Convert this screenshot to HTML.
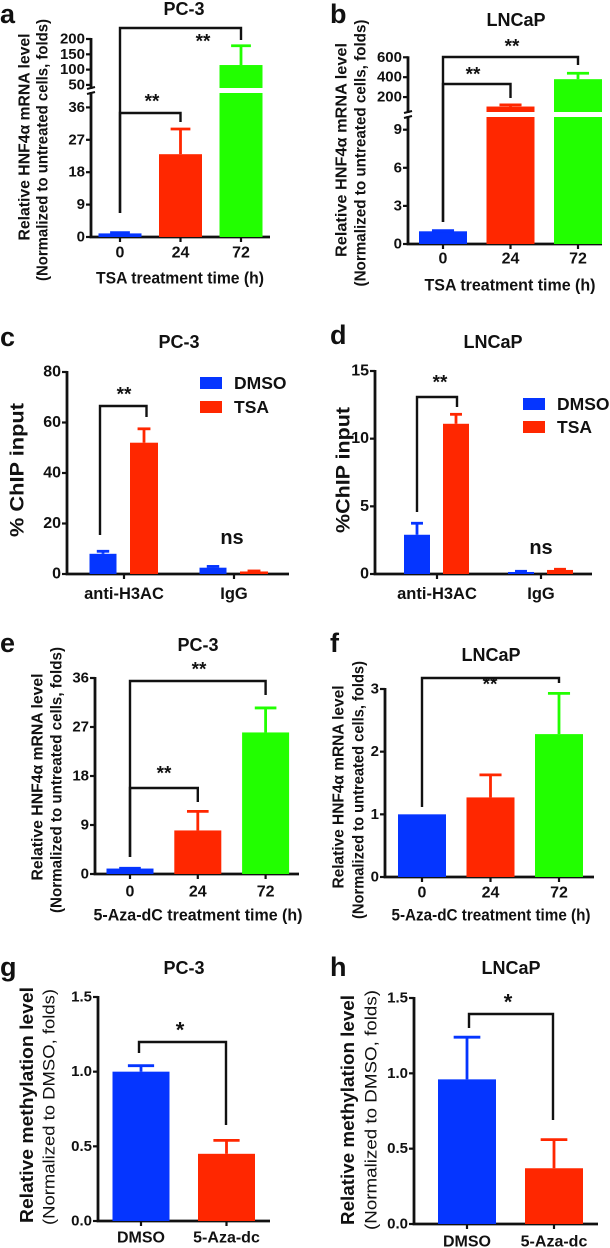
<!DOCTYPE html>
<html><head><meta charset="utf-8"><style>
html,body{margin:0;padding:0;background:#fff;}
svg{display:block;font-family:"Liberation Sans",Arial,sans-serif;}
</style></head><body>
<svg id="fig" width="610" height="1248" viewBox="0 0 610 1248" xmlns="http://www.w3.org/2000/svg"></svg>
<script>
// ---------- data ----------
const aCats=['0','24','72'];
const aVals=[1,23,115];
const aErr=[1.2,30,178];
const aTicksLow=[0,9,18,27,36];
const aTicksHigh=[50,100,150,200];

const bCats=['0','24','72'];
const bVals=[1,105,380];
const bErr=[1.05,122,440];
const bTicksLow=[0,3,6,9];
const bTicksHigh=[200,400,600];

const cCats=['anti-H3AC','IgG'];
const cDmso=[8,2.5];
const cDmsoErr=[9,3];
const cTsa=[52,1];
const cTsaErr=[57.5,1.2];
const cTicks=[0,20,40,60,80];

const dCats=['anti-H3AC','IgG'];
const dDmso=[2.9,0.15];
const dDmsoErr=[3.75,0.2];
const dTsa=[11.1,0.3];
const dTsaErr=[11.8,0.35];
const dTicks=[0,5,10,15];

const eCats=['0','24','72'];
const eVals=[1,8,26];
const eErr=[1.05,11.5,30.5];
const eTicks=[0,9,18,27,36];

const fCats=['0','24','72'];
const fVals=[1.0,1.27,2.28];
const fErr=[1.0,1.63,2.93];
const fTicks=[0,1,2,3];

const gCats=['DMSO','5-Aza-dc'];
const gVals=[1.0,0.45];
const gErr=[1.04,0.54];
const gTicks=['0.0','0.5','1.0','1.5'];

const hCats=['DMSO','5-Aza-dc'];
const hVals=[0.96,0.37];
const hErr=[1.24,0.56];
const hTicks=['0.0','0.5','1.0','1.5'];

// ---------- helpers ----------
const NS='http://www.w3.org/2000/svg';
const svg=document.getElementById('fig');
const BLUE='#0535ff', RED='#ff2700', GREEN='#22ff00';
function mk(tag,attrs,parent){const e=document.createElementNS(NS,tag);for(const k in attrs)e.setAttribute(k,attrs[k]);(parent||svg).appendChild(e);return e;}
function txt(s,x,y,size,opt,parent){
  opt=opt||{};
  const t=mk('text',{x:x,y:y,'font-size':size,'font-weight':opt.w||'bold','text-anchor':opt.a||'middle','dominant-baseline':'central',fill:'#111'},parent);
  if(opt.rot){t.setAttribute('transform','rotate(-90 '+x+' '+y+')');}
  if(opt.len){t.setAttribute('textLength',opt.len);t.setAttribute('lengthAdjust','spacingAndGlyphs');}
  t.textContent=s;return t;
}
function mkScale(segs){
  return function(v){
    let s=segs[0];
    for(const sg of segs){if(v>=sg.d0)s=sg;}
    return s.p0+(v-s.d0)/(s.d1-s.d0)*(s.p1-s.p0);
  };
}
function segY(sg,v){return sg.p0+(v-sg.d0)/(sg.d1-sg.d0)*(sg.p1-sg.p0);}
function drawAxes(g,x0,xEnd,base,segs,tickGroups,tickSize){
  const ys=mkScale(segs);
  segs.forEach(function(sg){
    const l=mk('line',{x1:x0,x2:x0,y1:sg.p0+1,y2:sg.p1-1,stroke:'#111','stroke-width':2.8},g);
    
    
  });
  for(let i=1;i<segs.length;i++){
    [segs[i-1].p1,segs[i].p0].forEach(function(yy){
      const b=mk('line',{x1:x0-4,x2:x0+4,y1:yy+1,y2:yy-1,stroke:'#111','stroke-width':2},g);
      
      
    });
  }
  const xl=mk('line',{x1:x0-1.4,x2:xEnd,y1:base,y2:base,stroke:'#111','stroke-width':2.8},g);
  
  
  tickGroups.forEach(function(tg){
    tg.forEach(function(t){
      const v=parseFloat(t);const yy=ys(v);
      const tk=mk('line',{x1:x0-5,x2:x0,y1:yy,y2:yy,stroke:'#111','stroke-width':2.2},g);
      
      
      const tl=txt(String(t),x0-6,yy,tickSize||15,{a:'end'},g);
      
      
    });
  });
  return ys;
}
function drawBar(g,segs,cx,w,v,err,color){
  segs.forEach(function(sg){
    if(v>sg.d0){
      const top=segY(sg,Math.min(v,sg.d1));
      const r=mk('rect',{x:cx-w/2,y:top,width:w,height:sg.p0-top,fill:color},g);
      
      
    }
  });
  const ys=mkScale(segs);
  if(err>v){
    const y1=ys(v),y2=ys(err);
    const e1=mk('line',{x1:cx,x2:cx,y1:y1,y2:y2,stroke:color,'stroke-width':2.8},g);
    
    
    const e2=mk('line',{x1:cx-w*0.23,x2:cx+w*0.23,y1:y2,y2:y2,stroke:color,'stroke-width':2.8},g);
    
    
  }
}
function bracket(g,xa,xb,yTop,yA,yB,label,lx,ly,size){
  const p=mk('polyline',{points:xa+','+yA+' '+xa+','+yTop+' '+xb+','+yTop+' '+xb+','+yB,fill:'none',stroke:'#111','stroke-width':2.4},g);
  
  
  const t=txt(label,lx,ly,size||19,{},g);
  
  
}
function xCats(g,cats,cxs,base,y,size){
  cats.forEach(function(c,i){
    const tk=mk('line',{x1:cxs[i],x2:cxs[i],y1:base,y2:base+5,stroke:'#111','stroke-width':2.2},g);
    
    
    const t=txt(c,cxs[i],y,size||16,{},g);
    
    
  });
}
function panelG(name){const g=mk('g',{});return g;}
function header(g,letter,lx,ly,title,tx,ty){
  const l=txt(letter,lx,ly,27,{a:'start'},g);
  
  
  const t=txt(title,tx,ty,18,{},g);
  
  
}
function ytitle(g,s,x,y,size,len,w){
  const t=txt(s,x,y,size,{rot:true,len:len,w:w},g);
  
  
}
function xtitle(g,s,x,y,len){
  const t=txt(s,x,y,17,{len:len},g);
  
  
}
function legend(g,x,y1,y2,tx){
  [[BLUE,'DMSO',y1],[RED,'TSA',y2]].forEach(function(it){
    const r=mk('rect',{x:x,y:it[2]-6,width:22,height:12,fill:it[0]},g);
    
    
    const t=txt(it[1],tx,it[2],17.5,{a:'start'},g);
    
    
  });
}
const COLORS3=[BLUE,RED,GREEN];

// ---------- panel a ----------
(function(){
  const g=panelG('panel-a');
  header(g,'a',0,14,'PC-3',184,9);
  const segs=[{d0:0,d1:40,p0:237,p1:93},{d0:40,d1:200,p0:88,p1:39}];
  drawAxes(g,91,270,237,segs,[aTicksLow,aTicksHigh],15);
  const cxs=aCats.map(function(c,i){return 120+i*60.5;});
  aVals.forEach(function(v,i){drawBar(g,segs,cxs[i],43,v,aErr[i],COLORS3[i]);});
  xCats(g,aCats,cxs,237,253,16);
  bracket(g,cxs[0],cxs[2],28,213,40,'**',203,42);
  bracket(g,cxs[0],cxs[1],113,213,122,'**',152,102);
  ytitle(g,'Relative HNF4α mRNA level',25,137,16,207);
  ytitle(g,'(Normalized to untreated cells, folds)',43,150,15.5,262);
  xtitle(g,'TSA treatment time (h)',180,278,168);
})();

// ---------- panel b ----------
(function(){
  const g=panelG('panel-b');
  header(g,'b',330,14,'LNCaP',516,20);
  const segs=[{d0:0,d1:10,p0:244,p1:117},{d0:50,d1:600,p0:112,p1:57.3}];
  drawAxes(g,408,602,244,segs,[bTicksLow,bTicksHigh],15);
  const cxs=bCats.map(function(c,i){return 443+i*67.5;});
  bVals.forEach(function(v,i){drawBar(g,segs,cxs[i],48,v,bErr[i],COLORS3[i]);});
  xCats(g,bCats,cxs,244,259,16);
  bracket(g,cxs[0],cxs[2],57,222,65,'**',512,47);
  bracket(g,cxs[0],cxs[1],84,222,98,'**',473,75);
  ytitle(g,'Relative HNF4α mRNA level',342,150,16,214);
  ytitle(g,'(Normalized to untreated cells, folds)',361,153,15.5,267);
  xtitle(g,'TSA treatment time (h)',510,285,171);
})();

// ---------- panel c ----------
(function(){
  const g=panelG('panel-c');
  header(g,'c',0,337,'PC-3',179,342);
  const segs=[{d0:0,d1:80,p0:574,p1:372}];
  drawAxes(g,67,289,574,segs,[cTicks],16);
  const gx=cCats.map(function(c,i){return 124+i*110;});
  cDmso.forEach(function(v,i){drawBar(g,segs,gx[i]-21,27,v,cDmsoErr[i],BLUE);});
  cTsa.forEach(function(v,i){drawBar(g,segs,gx[i]+20,28,v,cTsaErr[i],RED);});
  xCats(g,cCats,gx,574,594,16.5);
  bracket(g,100,146.5,406,535,417,'**',124,395);
  const ns=txt('ns',232,538,20,{},g);
  
  
  legend(g,200,383,407,234);
  ytitle(g,'% ChIP input',18,470,19,134);
})();

// ---------- panel d ----------
(function(){
  const g=panelG('panel-d');
  header(g,'d',330,335,'LNCaP',493,342);
  const segs=[{d0:0,d1:15,p0:574,p1:371}];
  drawAxes(g,375,592,574,segs,[dTicks],16);
  const gx=dCats.map(function(c,i){return 437+i*104;});
  dDmso.forEach(function(v,i){drawBar(g,segs,gx[i]-20,26,v,dDmsoErr[i],BLUE);});
  dTsa.forEach(function(v,i){drawBar(g,segs,gx[i]+19,26,v,dTsaErr[i],RED);});
  xCats(g,dCats,gx,574,594,16.5);
  bracket(g,417,457,397,512,407,'**',440,383);
  const ns=txt('ns',541,548,20,{},g);
  
  
  legend(g,523,404,427,557);
  ytitle(g,'%ChIP input',344,470,19,126);
})();

// ---------- panel e ----------
(function(){
  const g=panelG('panel-e');
  header(g,'e',0,643,'PC-3',198,645);
  const segs=[{d0:0,d1:36,p0:874,p1:678}];
  drawAxes(g,95,299,874,segs,[eTicks],15);
  const cxs=eCats.map(function(c,i){return 130+i*67.8;});
  eVals.forEach(function(v,i){drawBar(g,segs,cxs[i],47,v,eErr[i],COLORS3[i]);});
  xCats(g,eCats,cxs,874,892,16);
  bracket(g,cxs[0],cxs[2],681,857,695,'**',199,670);
  bracket(g,cxs[0],cxs[1],788,857,802,'**',164,774);
  ytitle(g,'Relative HNF4α mRNA level',38,777,16,207);
  ytitle(g,'(Normalized to untreated cells, folds)',57,780,15.5,266);
  xtitle(g,'5-Aza-dC treatment time (h)',198,915,209);
})();

// ---------- panel f ----------
(function(){
  const g=panelG('panel-f');
  header(g,'f',330,643,'LNCaP',491,655);
  const segs=[{d0:0,d1:3,p0:877,p1:689}];
  drawAxes(g,385,594,877,segs,[fTicks],15);
  const cxs=fCats.map(function(c,i){return 422+i*68.5;});
  fVals.forEach(function(v,i){drawBar(g,segs,cxs[i],48,v,fErr[i],COLORS3[i]);});
  xCats(g,fCats,cxs,877,893,16);
  bracket(g,cxs[0],cxs[2],678,807,683,'**',490,685);
  ytitle(g,'Relative HNF4α mRNA level',339,787,16,203);
  ytitle(g,'(Normalized to untreated cells, folds)',359,790,15.5,258);
  xtitle(g,'5-Aza-dC treatment time (h)',491,915,199);
})();

// ---------- panel g ----------
(function(){
  const g=panelG('panel-g');
  header(g,'g',0,967,'PC-3',184,968);
  const segs=[{d0:0,d1:1.5,p0:1221,p1:997}];
  drawAxes(g,98,270,1221,segs,[gTicks],15);
  const cxs=gCats.map(function(c,i){return 141+i*85.5;});
  gVals.forEach(function(v,i){drawBar(g,segs,cxs[i],57,v,gErr[i],[BLUE,RED][i]);});
  xCats(g,gCats,cxs,1221,1238,16);
  bracket(g,139,226,1042,1053,1125,'*',180,1030,22);
  ytitle(g,'Relative methylation level',27,1105,18,236);
  ytitle(g,'(Normalized to DMSO, folds)',49,1107,17,236,'normal');
})();

// ---------- panel h ----------
(function(){
  const g=panelG('panel-h');
  header(g,'h',330,967,'LNCaP',511,968);
  const segs=[{d0:0,d1:1.5,p0:1224,p1:998}];
  drawAxes(g,414,598,1224,segs,[hTicks],15);
  const cxs=hCats.map(function(c,i){return 467+i*87;});
  hVals.forEach(function(v,i){drawBar(g,segs,cxs[i],58,v,hErr[i],[BLUE,RED][i]);});
  xCats(g,hCats,cxs,1224,1242,16);
  bracket(g,469,553,1014,1028,1120,'*',508,1002,22);
  ytitle(g,'Relative methylation level',348,1110,18,230);
  ytitle(g,'(Normalized to DMSO, folds)',371,1110,17,240,'normal');
})();
</script>
</body></html>
